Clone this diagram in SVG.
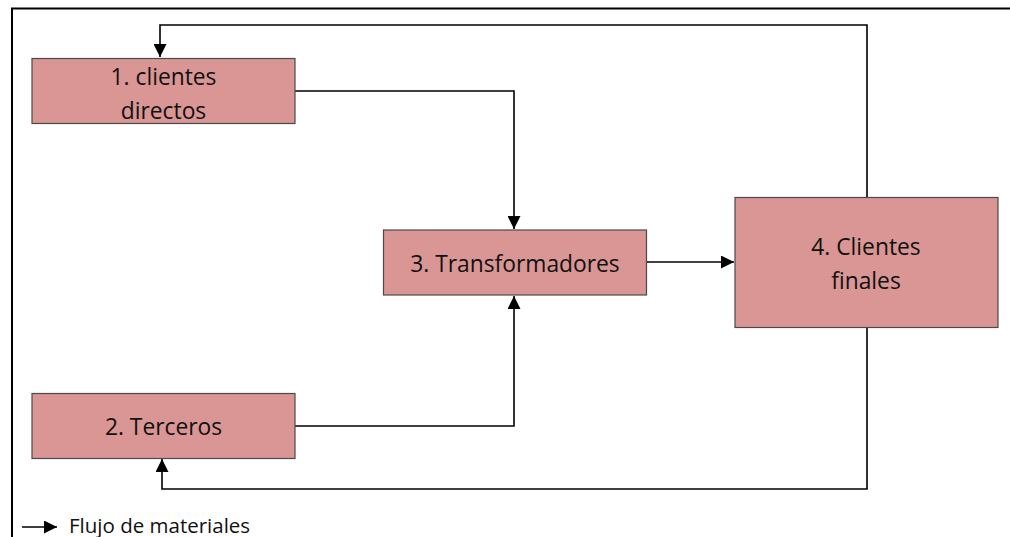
<svg xmlns="http://www.w3.org/2000/svg" width="1010" height="537" viewBox="0 0 1010 537">
  <style>
    .box { fill: #D99694; stroke: #4a4a4a; stroke-width: 1.2; }
    .lbl { font-family: "Open Sans", "Liberation Sans", sans-serif; font-size: 22.8px; fill: #111; text-anchor: middle; }
    .leg { font-family: "Open Sans", "Liberation Sans", sans-serif; font-size: 20.5px; fill: #111; }
    .flow { fill: none; stroke: #000; stroke-width: 1.6; }
    .frame { fill: none; stroke: #000; stroke-width: 2; }
  </style>
  <defs>
    <marker id="arrow" viewBox="0 0 10 10" refX="10" refY="5" markerWidth="13" markerHeight="13" markerUnits="userSpaceOnUse" orient="auto">
      <path d="M0,0 L10,5 L0,10 Z" fill="#000"/>
    </marker>
  </defs>

  <rect width="1010" height="537" fill="#fff"/>

  <!-- page frame: top and left edges only -->
  <path class="frame" d="M12,537 V8.5 H1010"/>

  <g id="connectors">
    <path class="flow" d="M295,91 H514 V229" marker-end="url(#arrow)"/>
    <path class="flow" d="M295,426 H514 V296" marker-end="url(#arrow)"/>
    <path class="flow" d="M647,262 H734" marker-end="url(#arrow)"/>
    <path class="flow" d="M867,197 V25 H160 V57" marker-end="url(#arrow)"/>
    <path class="flow" d="M867,328 V489 H162 V459" marker-end="url(#arrow)"/>
  </g>

  <g id="n1">
    <rect class="box" x="32" y="58.5" width="263" height="65"/>
    <text class="lbl" x="163.5" y="85">1. clientes</text>
    <text class="lbl" x="163.5" y="119">directos</text>
  </g>

  <g id="n2">
    <rect class="box" x="32" y="393.5" width="263" height="65"/>
    <text class="lbl" x="163.5" y="435">2. Terceros</text>
  </g>

  <g id="n3">
    <rect class="box" x="383.5" y="230" width="263" height="65"/>
    <text class="lbl" x="515" y="271.5">3. Transformadores</text>
  </g>

  <g id="n4">
    <rect class="box" x="735" y="197.5" width="263" height="130"/>
    <text class="lbl" x="866" y="255">4. Clientes</text>
    <text class="lbl" x="866" y="289">finales</text>
  </g>

  <g id="legend">
    <path class="flow" d="M22,527 H57" marker-end="url(#arrow)"/>
    <text class="leg" x="69" y="533">Flujo de materiales</text>
  </g>
</svg>
